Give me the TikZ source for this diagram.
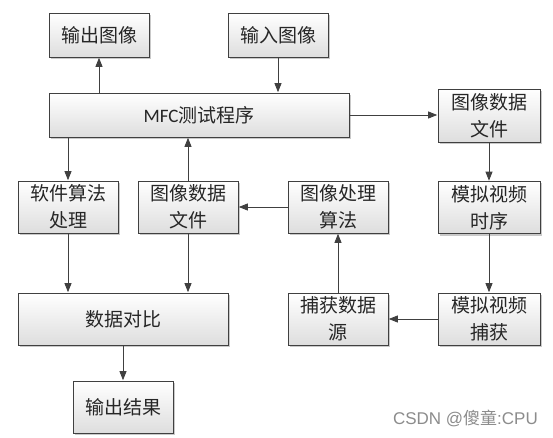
\documentclass[tikz,border=0pt]{standalone}
\usepackage{fontspec}
\newfontfamily\cjk{Noto Sans CJK SC}
\newfontfamily\latinf{Carlito}
\newfontfamily\arialf{Liberation Sans}
\usetikzlibrary{arrows.meta,shadows}
\definecolor{edge}{HTML}{404040}
\tikzset{
  box/.style={draw=edge, line width=0.8pt, top color=white, bottom color=black!13,
    drop shadow={shadow xshift=2pt, shadow yshift=-2pt, fill=black!35, opacity=0.6},
    align=center, inner sep=1pt, minimum width=100pt, minimum height=52pt,
    font={\cjk\fontsize{19}{27}\selectfont}, text=black!85},
  arr/.style={draw=edge, line width=0.8pt, -{Triangle[length=9pt,width=7pt]}, shorten >=0.4pt}
}
\begin{document}
\begin{tikzpicture}[x=1pt,y=-1pt]
\useasboundingbox[fill=white] (0,0) rectangle (553,438);
\node[box, minimum height=44pt] (out) at (99,35) {输出图像};
\node[box, minimum height=44pt] (in) at (278,35) {输入图像};
\node[box, minimum width=300pt, minimum height=44pt] (mfc) at (199,115) {{\latinf MFC}测试程序};
\node[box, minimum width=102pt, minimum height=53pt] (file1) at (489,115.5) {图像数据\\文件};
\node[box, minimum width=102pt] (sim1) at (489,207.5) {模拟视频\\时序};
\node[box] (sw) at (68,207) {软件算法\\处理};
\node[box] (file2) at (188,207) {图像数据\\文件};
\node[box] (proc) at (338,207) {图像处理\\算法};
\node[box, minimum width=210pt] (cmp) at (123,319) {数据对比};
\node[box] (cap) at (338,319) {捕获数据\\源};
\node[box, minimum width=102pt] (sim2) at (489,319) {模拟视频\\捕获};
\node[box] (res) at (123,407) {输出结果};
\node[anchor=east, font={\arialf\fontsize{17}{19}\selectfont}, text=black!45, inner sep=0pt] (wm) at (538,418) {CSDN @{\cjk 傻童}:CPU};

\draw[arr] (mfc.north -| out) -- (out.south);
\draw[arr] (in.south) -- (in.south |- mfc.north);
\draw[arr] (mfc.east) -- (mfc.east -| file1.west);
\draw[arr] (file1.south) -- (sim1.north);
\draw[arr] (sim1.south) -- (sim2.north);
\draw[arr] (sim2.west) -- (cap.east);
\draw[arr] (cap.north) -- (proc.south);
\draw[arr] (proc.west) -- (file2.east);
\draw[arr] (file2.north) -- (file2.north |- mfc.south);
\draw[arr] (mfc.south -| sw) -- (sw.north);
\draw[arr] (sw.south) -- (sw.south |- cmp.north);
\draw[arr] (file2.south) -- (file2.south |- cmp.north);
\draw[arr] (cmp.south) -- (res.north);
\end{tikzpicture}
\end{document}
